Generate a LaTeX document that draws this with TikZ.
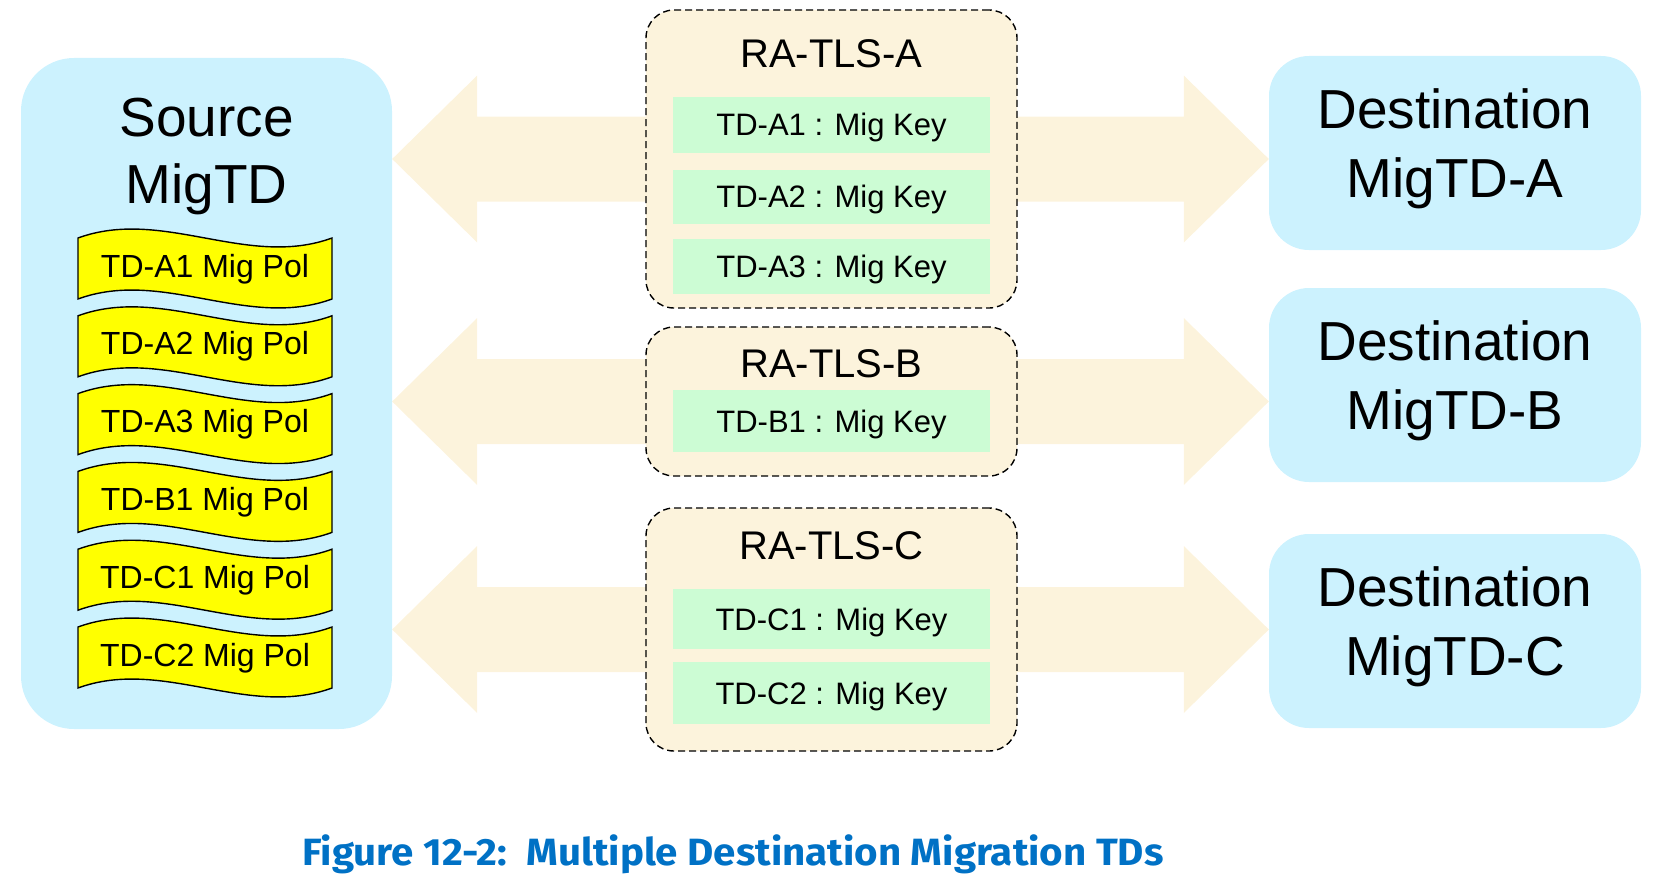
\documentclass[tikz,border=0pt]{standalone}
\usepackage{fontspec}
\setmainfont{Liberation Sans}
\newfontfamily\capfont[FakeStretch=1.06]{Fira Sans}
\usetikzlibrary{positioning, calc, shapes, backgrounds}

\definecolor{migblue}{RGB}{204,242,254}
\definecolor{tlscream}{RGB}{252,243,220}
\definecolor{keygreen}{RGB}{204,252,212}
\definecolor{polyellow}{RGB}{255,255,0}
\definecolor{capblue}{RGB}{0,113,197}

\tikzset{
  migbox/.style={fill=migblue, rounded corners=40pt, inner sep=0pt},
  bigtext/.style={font=\fontsize{55}{69}\selectfont, align=center, inner sep=0pt},
  tlsbox/.style={fill=tlscream, draw=black, dash pattern=on 7pt off 4pt, line width=1.4pt,
    rounded corners=28pt, minimum width=371pt, inner sep=0pt},
  tlstitle/.style={font=\fontsize{40}{48}\selectfont, inner sep=0pt},
  keybox/.style={fill=keygreen, minimum width=317pt, minimum height=56pt, inner sep=0pt,
    text depth=0pt, font=\fontsize{31}{37}\selectfont},
  polwave/.style={fill=polyellow, draw=black, line width=1.4pt},
  poltext/.style={font=\fontsize{32}{38}\selectfont, inner sep=0pt},
  migarrow/.style={fill=tlscream}
}

\begin{document}
\begin{tikzpicture}[x=1pt, y=-1pt]
\useasboundingbox (0,0) rectangle (1662,883);

% source side
\node[migbox, rounded corners=53pt, minimum width=371pt, minimum height=671pt] (src) at (206.5,393.5) {};
\node[bigtext, font=\fontsize{55}{67}\selectfont, anchor=north] (srcLabel) at (206.5,98) {Source\\MigTD};

\foreach \name [count=\i from 0] in {A1,A2,A3,B1,C1,C2} {
  \pgfmathsetmacro\yt{238+77.8*\i}
  \draw[polwave] (78,\yt) .. controls (162.7,\yt-31) and (247.3,\yt+31) .. (332,\yt)
    -- (332,\yt+61) .. controls (247.3,\yt+92) and (162.7,\yt+30) .. (78,\yt+61) -- cycle;
  \node[poltext, anchor=base] (pol\name) at (205,\yt+39) {TD-\name{} Mig Pol};
}

% destinations
\node[migbox, bigtext, minimum width=372pt, minimum height=194pt] (dstA) at (1455,153) {Destination\\MigTD-A\strut};
\node[migbox, bigtext, minimum width=372pt, minimum height=194pt] (dstB) at (1455,385) {Destination\\MigTD-B\strut};
\node[migbox, bigtext, minimum width=372pt, minimum height=194pt] (dstC) at (1455,631) {Destination\\MigTD-C\strut};

% RA-TLS sessions
\node[tlsbox, minimum height=298pt] (tlsA) at (831.5,159) {};
\node[tlsbox, minimum height=149pt] (tlsB) at (831.5,401.5) {};
\node[tlsbox, minimum height=243pt] (tlsC) at (831.5,629.5) {};

\node[tlstitle, anchor=base] (tlsAtitle) at (831.5,67) {RA-TLS-A};
\node[tlstitle, anchor=base] (tlsBtitle) at (831.5,377) {RA-TLS-B};
\node[tlstitle, anchor=base] (tlsCtitle) at (831.5,559) {RA-TLS-C};

\node[keybox] (keyA1) at (831.5,124.5) {TD-A1 : Mig Key};
\node[keybox, minimum height=54pt] (keyA2) at (831.5,196.5) {TD-A2 : Mig Key};
\node[keybox, minimum height=55pt] (keyA3) at (831.5,266.5) {TD-A3 : Mig Key};
\node[keybox, minimum height=62pt] (keyB1) at (831.5,421) {TD-B1 : Mig Key};
\node[keybox, minimum height=60pt] (keyC1) at (831.5,619) {TD-C1 : Mig Key};
\node[keybox, minimum height=62pt] (keyC2) at (831.5,693) {TD-C2 : Mig Key};

% two way arrows behind the sessions
\begin{scope}[on background layer]
\foreach \t/\d in {tlsA/dstA, tlsB/dstB, tlsC/dstC} {
  \fill[migarrow] (src.east |- \t) -- ($(src.east |- \t)+(85,-83.5)$) -- ($(src.east |- \t)+(85,-42.5)$)
    -- ($(\d.west |- \t)+(-85,-42.5)$) -- ($(\d.west |- \t)+(-85,-83.5)$) -- (\d.west |- \t)
    -- ($(\d.west |- \t)+(-85,83.5)$) -- ($(\d.west |- \t)+(-85,42.5)$)
    -- ($(src.east |- \t)+(85,42.5)$) -- ($(src.east |- \t)+(85,83.5)$) -- cycle;
}
\end{scope}

\node[font={\capfont\bfseries\fontsize{38}{46}\selectfont}, text=capblue, anchor=base west, inner sep=0pt] (caption) at (302,865) {Figure 12-2:\ \ Multiple Destination Migration TDs};
\end{tikzpicture}
\end{document}
